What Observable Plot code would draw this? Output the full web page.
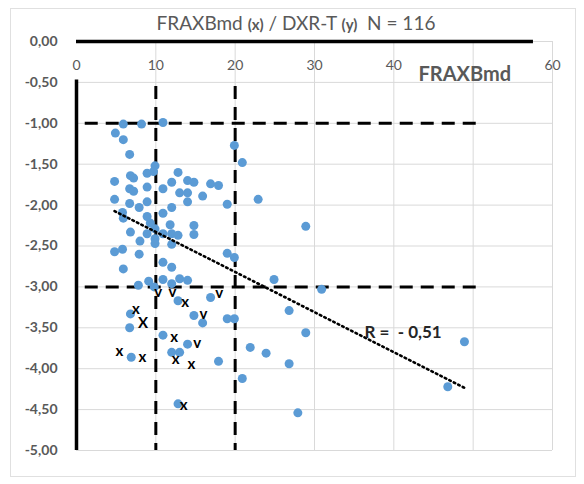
<!DOCTYPE html>
<html>
<head>
<meta charset="utf-8">
<script src="https://cdn.jsdelivr.net/npm/d3@7"></script>
<script src="https://cdn.jsdelivr.net/npm/@observablehq/plot@0.6"></script>
<style>
  body { margin: 0; background: #fff; }
  #chart { position: relative; width: 584px; height: 484px; }
  #chart svg { position: absolute; left: 0; top: 0; }
  #frame { position: absolute; left: 10px; top: 8px; width: 566px; height: 469px; border: 1px solid #e0e0e0; box-sizing: border-box; pointer-events: none; }
  #title { position: absolute; left: 0; top: 11px; width: 592px; text-align: center; font: 19px Lato, sans-serif; color: #595959; white-space: pre; }
  #title b { font-size: 15px; }
</style>
</head>
<body>
<div id="chart">
  <div id="frame"></div>
  <div id="title">FRAXBmd <b>(x)</b> / DXR-T <b>(y)</b>  N = 116</div>
</div>
<script>
// FRAXBmd score (x) against DXR-T score (y), one value per patient
const fraxBmd = [
  5.9, 8.2, 10.9, 4.9, 5.9, 6.7, 19.9, 20.9, 9.9, 9.7,
  8.9, 12.8, 4.8, 6.8, 7.2, 8.9, 6.7, 7.2, 10.9, 12.0,
  14.0, 14.8, 16.9, 17.9, 13.0, 14.0, 14.0, 15.9, 19.0, 22.9,
  4.8, 6.7, 7.9, 8.9, 12.0, 5.8, 5.9, 8.9, 10.9, 9.3,
  9.9, 11.8, 14.8, 14.8, 6.8, 8.9, 10.9, 12.0, 12.8, 8.0,
  9.9, 9.9, 12.0, 4.8, 5.8, 7.9, 19.0, 19.9, 10.9, 12.0,
  5.9, 7.8, 9.1, 9.8, 10.9, 12.0, 13.0, 14.0, 24.9, 30.9,
  16.9, 12.8, 6.8, 6.7, 14.8, 15.9, 19.0, 19.9, 10.9, 14.0,
  6.9, 12.0, 13.0, 17.9, 20.9, 12.8, 26.8, 28.9, 21.9, 23.9,
  26.8, 27.9, 46.8, 48.9, 28.9
];
const dxrT = [
  -1.01, -1.01, -0.99, -1.12, -1.20, -1.38, -1.27, -1.48, -1.52, -1.59,
  -1.61, -1.60, -1.71, -1.64, -1.67, -1.78, -1.80, -1.83, -1.80, -1.72,
  -1.70, -1.72, -1.74, -1.76, -1.85, -1.85, -1.96, -1.89, -1.99, -1.93,
  -1.93, -1.98, -2.03, -1.96, -2.03, -2.09, -2.16, -2.14, -2.10, -2.22,
  -2.29, -2.24, -2.25, -2.36, -2.33, -2.35, -2.35, -2.35, -2.37, -2.44,
  -2.41, -2.47, -2.48, -2.57, -2.54, -2.60, -2.59, -2.64, -2.70, -2.76,
  -2.78, -2.98, -2.93, -3.00, -2.91, -2.96, -2.90, -2.92, -2.91, -3.03,
  -3.13, -3.17, -3.33, -3.50, -3.35, -3.44, -3.39, -3.39, -3.59, -3.70,
  -3.86, -3.80, -3.80, -3.91, -4.12, -4.43, -3.29, -3.56, -3.74, -3.81,
  -3.94, -4.54, -4.22, -3.67, -2.26
];

// Hand-written flags ("x" / "v") next to individual patients
const flagText = ["v", "v", "x", "v", "x", "X", "v", "x", "v", "x", "x", "x", "x", "x"];
const flagX = [10.3, 12.1, 13.7, 18.0, 7.5, 8.4, 16.0, 12.3, 15.2, 5.4, 8.3, 12.5, 14.5, 13.5];
const flagY = [-3.07, -3.06, -3.19, -3.08, -3.27, -3.44, -3.33, -3.62, -3.69, -3.79, -3.86, -3.88, -3.94, -4.44];

// Axis ticks and threshold lines
const xTickLabels = [0, 10, 20, 30, 40, 60];
const xGridTicks = [10, 20, 30, 40, 50, 60];
const yTicks = [0, -0.5, -1, -1.5, -2, -2.5, -3, -3.5, -4, -4.5, -5];
const thresholdY = [-1, -3];
const thresholdX = [10, 20];
const thresholdYSpan = [1.1, 51.3];
const thresholdXSpan = [-0.55, -5];
const axisLineXSpan = [0, 57.6];
const axisLineYSpan = [-0.47, -5];
const xTitle = "FRAXBmd";
const rLabel = "R =  - 0,51";
const rLabelPos = [36.3, -3.56];

const points = fraxBmd.map((x, i) => ({x, y: dxrT[i]}));
const flags = flagText.map((t, i) => ({t, x: flagX[i], y: flagY[i]}));
const fmt = d => d.toFixed(2).replace(".", ",");
const grey = "#595959";

const plot = Plot.plot({
  width: 584,
  height: 484,
  marginLeft: 76,
  marginRight: 32,
  marginTop: 41,
  marginBottom: 34,
  x: {domain: [0, 60], label: null, axis: null},
  y: {domain: [-5, 0], label: null},
  style: {fontFamily: "Lato, sans-serif", background: "transparent", overflow: "visible"},
  marks: [
    Plot.ruleY(yTicks, {stroke: "#d9d9d9", strokeWidth: 1}),
    Plot.ruleX(xGridTicks, {stroke: "#d9d9d9", strokeWidth: 1}),
    Plot.axisY(yTicks, {tickSize: 0, tickPadding: 19, tickFormat: fmt, fill: grey, fontSize: 14, fontWeight: "bold"}),
    Plot.text(xTickLabels, {x: d => d, frameAnchor: "top", dy: 19, text: d => String(d), fill: grey, fontSize: 14}),
    Plot.text([xTitle], {frameAnchor: "top-left", dx: 342, dy: 25, text: d => d, fill: grey, fontSize: 20, fontWeight: "bold", textAnchor: "start"}),
    // thick axis lines
    Plot.ruleY([0], {x1: axisLineXSpan[0], x2: axisLineXSpan[1], stroke: "black", strokeWidth: 3.5}),
    Plot.ruleX([0], {y1: axisLineYSpan[0], y2: axisLineYSpan[1], stroke: "black", strokeWidth: 3.5}),
    // dashed thresholds
    Plot.ruleY(thresholdY, {x1: thresholdYSpan[0], x2: thresholdYSpan[1], stroke: "black", strokeWidth: 3, strokeDasharray: "13,8"}),
    Plot.ruleX(thresholdX, {y1: thresholdXSpan[0], y2: thresholdXSpan[1], stroke: "black", strokeWidth: 3, strokeDasharray: "13,8"}),
    Plot.dot(points, {x: "x", y: "y", r: 4.5, fill: "#5b9bd5", stroke: "none"}),
    Plot.linearRegressionY(points, {x: "x", y: "y", ci: 0, stroke: "black", strokeWidth: 2.6, strokeDasharray: "1.6,3.4", strokeLinecap: "round"}),
    Plot.text(flags, {x: "x", y: "y", text: "t", fill: "black", fontSize: 15, fontWeight: "bold"}),
    Plot.text([rLabel], {x: () => rLabelPos[0], y: () => rLabelPos[1], text: d => d, textAnchor: "start", fill: "#262626", fontSize: 17, fontWeight: "bold"})
  ]
});
document.getElementById("chart").prepend(plot);
</script>
</body>
</html>
